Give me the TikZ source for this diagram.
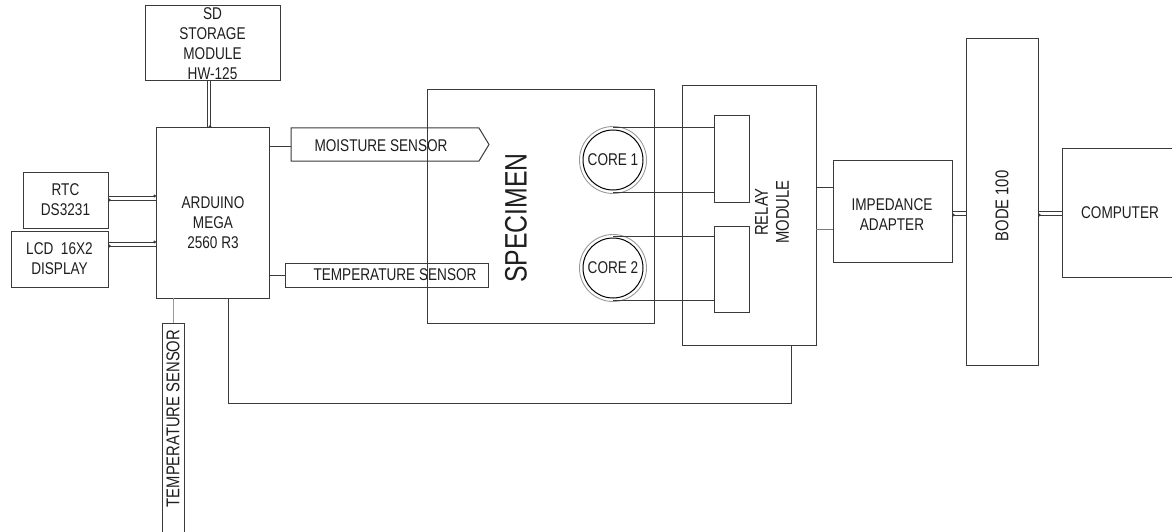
\documentclass[tikz,border=0pt]{standalone}
\usepackage{fontspec}
\setmainfont{Liberation Sans}[FakeStretch=0.8]
\usetikzlibrary{arrows.meta}
\definecolor{edge}{HTML}{3A3A3A}
\definecolor{txt}{HTML}{1E1E1E}
\definecolor{ring}{HTML}{9A9A9A}
\begin{document}
\begin{tikzpicture}[x=1pt,y=-1pt,
  box/.style={draw=edge, line width=1pt, inner sep=0pt, outer sep=0pt, align=center,
    text=txt, font=\fontsize{17}{20}\selectfont},
  lbl/.style={inner sep=0pt, align=center, text=txt, font=\fontsize{17}{20}\selectfont},
  vlbl/.style={lbl, rotate=90, font=\fontsize{18.5}{21}\selectfont},
  wire/.style={draw=edge, line width=1pt},
  greywire/.style={draw=ring, line width=1pt},
  dot/.style={-{Circle[length=2.6pt]}},
  core/.style={circle, draw=black, line width=1pt, minimum size=60pt, inner sep=0pt, outer sep=0pt,
    text=txt, font=\fontsize{17}{20}\selectfont},
]
\useasboundingbox (0,0) rectangle (1172,532);

% boxes
\node[box, minimum width=135pt, minimum height=75pt] (sd) at (212.5,43.5) {SD\\STORAGE\\MODULE\\HW-125};
\node[box, minimum width=113pt, minimum height=170pt] (ard) at (212.5,213) {};
\node[lbl] (ardt) at (213,223) {ARDUINO\\MEGA\\2560 R3};
\node[box, minimum width=85pt, minimum height=56pt] (rtc) at (65.5,200) {RTC\\DS3231};
\node[box, minimum width=97pt, minimum height=56pt] (lcd) at (59.5,259) {LCD\ \ 16X2\\DISPLAY};

% moisture sensor (pentagon arrow)
\draw[draw=edge, line width=1pt] (291,128) -- (479,128) -- (489,144.5) -- (479,161) -- (291,161) -- cycle;
\coordinate (ms) at (291,146);
\node[lbl] (mst) at (381,146) {MOISTURE SENSOR};

% temperature sensor horizontal
\node[box, minimum width=203pt, minimum height=24pt] (th) at (386.5,275) {};
\node[lbl] (tht) at (395,275) {TEMPERATURE SENSOR};

% temperature sensor vertical
\node[box, minimum width=22pt, minimum height=217pt] (tv) at (173,431.5) {};
\node[vlbl] (tvt) at (173,418.5) {TEMPERATURE SENSOR};

% specimen
\node[box, minimum width=227pt, minimum height=233pt] (spec) at (540.5,206.5) {};
\node[lbl, rotate=90, font=\fontsize{31}{36}\selectfont] (spect) at (516,218) {SPECIMEN};

% cores
\draw[ring, line width=0.9pt] (613,160) circle[radius=33.5];
\node[core] (c1) at (613,160) {CORE 1};
\draw[ring, line width=0.9pt] (613,268) circle[radius=33.5];
\node[core] (c2) at (613,268) {CORE 2};

% relay module
\node[box, minimum width=134pt, minimum height=259pt] (relay) at (749,215.5) {};
\node[vlbl] (relayt) at (772,212) {RELAY\\MODULE};
\node[box, minimum width=35pt, minimum height=86pt] (r1) at (731.5,159) {};
\node[box, minimum width=35pt, minimum height=86pt] (r2) at (731.5,269) {};

% impedance adapter
\node[box, minimum width=119pt, minimum height=102pt] (imp) at (892.5,211) {};
\node[lbl] (impt) at (892,214.5) {IMPEDANCE\\ADAPTER};

% bode
\node[box, minimum width=72pt, minimum height=326pt] (bode) at (1002,202) {};
\node[vlbl] (bodet) at (1002,206) {BODE 100};

% computer
\node[box, minimum width=112pt, minimum height=129pt] (pc) at (1118,212.5) {};
\node[lbl] (pct) at (1120,213) {COMPUTER};

% connectors
\draw[wire] ([xshift=-5.5pt]sd.south) -- ([xshift=-5.5pt]sd.south |- ard.north);
\draw[wire, dot] ([xshift=-2.5pt]sd.south) -- ([xshift=-2.5pt]sd.south |- ard.north);

\draw[wire, dot] ([yshift=4pt]rtc.east) -- ([yshift=4pt]rtc.east -| ard.west);
\draw[wire, dot] (rtc.east -| ard.west) -- (rtc.east);

\draw[wire, dot] ([yshift=17pt]lcd.east) -- ([yshift=17pt]lcd.east -| ard.west);
\draw[wire, dot] ([yshift=13pt]lcd.east -| ard.west) -- ([yshift=13pt]lcd.east);

\draw[wire] (ard.east |- ms) -- (ms);
\draw[wire] (ard.east |- th.west) -- (th.west);
\draw[greywire] (tv.north |- ard.south) -- (tv.north);

\coordinate (loop) at (228,403);
\draw[wire] (ard.south -| loop) -- (loop) -| ([xshift=42pt]relay.south);

\draw[wire] ([yshift=2pt]c1.north) -- ([yshift=2pt]c1.north -| r1.west);
\draw[wire] ([yshift=-2pt]c1.south) -- ([yshift=-2pt]c1.south -| r1.west);
\draw[wire] ([yshift=2pt]c2.north) -- ([yshift=2pt]c2.north -| r2.west);
\draw[wire] ([yshift=-2pt]c2.south) -- ([yshift=-2pt]c2.south -| r2.west);

\draw[wire] ([yshift=24pt]imp.west -| relay.east) -- ([yshift=24pt]imp.west);
\draw[wire, draw=ring!80!black] ([yshift=-18pt]imp.west -| relay.east) -- ([yshift=-18pt]imp.west);

\draw[wire] (imp.east) -- (imp.east -| bode.west);
\draw[wire, dot] ([yshift=-4pt]imp.east -| bode.west) -- ([yshift=-4pt]imp.east);
\draw[wire] (imp.east -| bode.east) -- (imp.east -| pc.west);
\draw[wire, dot] ([yshift=-4pt]imp.east -| pc.west) -- ([yshift=-4pt]imp.east -| bode.east);
\end{tikzpicture}
\end{document}
